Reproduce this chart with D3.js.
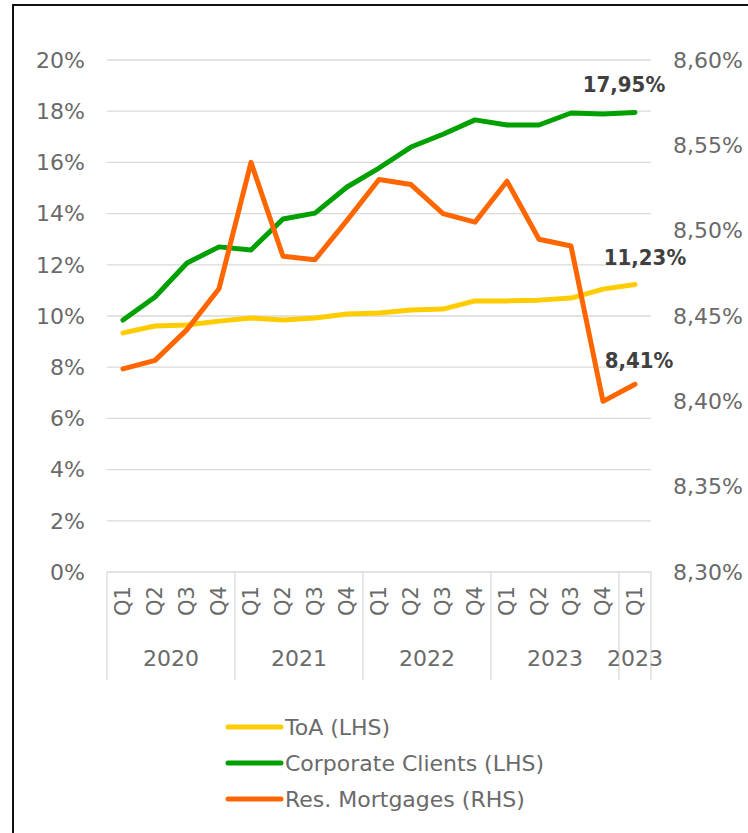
<!DOCTYPE html>
<html>
<head>
<meta charset="utf-8">
<script src="https://cdn.jsdelivr.net/npm/d3@7"></script>
<style>
  body { margin: 0; background: #fff; }
  svg text { font-family: "DejaVu Sans", "Liberation Sans", sans-serif; }
</style>
</head>
<body>
<div id="chart"></div>
<script>
// Quarter labels and the year group each one belongs to
var quarters = ["Q1","Q2","Q3","Q4","Q1","Q2","Q3","Q4","Q1","Q2","Q3","Q4","Q1","Q2","Q3","Q4","Q1"];
var yearGroups = ["2020","2020","2020","2020","2021","2021","2021","2021","2022","2022","2022","2022","2023","2023","2023","2023","2023b"];

// Series values (percent)
var toa = [9.34, 9.61, 9.65, 9.80, 9.92, 9.84, 9.92, 10.08, 10.12, 10.23, 10.27, 10.59, 10.59, 10.62, 10.70, 11.05, 11.23];
var corporate = [9.84, 10.74, 12.07, 12.70, 12.58, 13.79, 14.02, 15.04, 15.78, 16.60, 17.10, 17.66, 17.46, 17.46, 17.93, 17.89, 17.95];
var mortgages = [8.419, 8.424, 8.442, 8.466, 8.540, 8.485, 8.483, 8.506, 8.530, 8.527, 8.510, 8.505, 8.529, 8.495, 8.491, 8.400, 8.41];

var leftTicks = [0, 2, 4, 6, 8, 10, 12, 14, 16, 18, 20];
var rightTicks = [8.30, 8.35, 8.40, 8.45, 8.50, 8.55, 8.60];

var seriesNames = ["ToA (LHS)", "Corporate Clients (LHS)", "Res. Mortgages (RHS)"];
var seriesColors = ["#FFCC00", "#00A000", "#FF6600"];

var width = 748, height = 833;
var margin = {top: 60, left: 107, right: 97, bottom: 261};
var textColor = "#6a6a6a";

var svg = d3.select("#chart").append("svg")
  .attr("width", width)
  .attr("height", height);

// frame
svg.append("rect")
  .attr("x", 13).attr("y", 5)
  .attr("width", width + 20).attr("height", height + 20)
  .attr("fill", "none")
  .attr("stroke", "#111")
  .attr("stroke-width", 2);

var x = d3.scaleBand()
  .domain(d3.range(quarters.length))
  .range([margin.left, width - margin.right]);

var yLeft = d3.scaleLinear().domain([0, 20]).range([height - margin.bottom, margin.top]);
var yRight = d3.scaleLinear().domain([8.30, 8.60]).range([height - margin.bottom, margin.top]);

var cx = function(i) { return x(i) + x.bandwidth() / 2; };

// gridlines
svg.append("g")
  .selectAll("line")
  .data(leftTicks.slice(1))
  .enter().append("line")
  .attr("x1", margin.left).attr("x2", width - margin.right)
  .attr("y1", function(d) { return yLeft(d); })
  .attr("y2", function(d) { return yLeft(d); })
  .attr("stroke", "#d9d9d9")
  .attr("stroke-width", 1.3);

// left axis labels
svg.append("g")
  .selectAll("text")
  .data(leftTicks)
  .enter().append("text")
  .attr("x", 85)
  .attr("y", function(d) { return yLeft(d); })
  .attr("dy", "0.35em")
  .attr("text-anchor", "end")
  .attr("fill", textColor)
  .style("font-size", "22px")
  .text(function(d) { return d + "%"; });

// right axis labels
svg.append("g")
  .selectAll("text")
  .data(rightTicks)
  .enter().append("text")
  .attr("x", 673)
  .attr("y", function(d) { return yRight(d); })
  .attr("dy", "0.35em")
  .attr("text-anchor", "start")
  .attr("fill", textColor)
  .style("font-size", "22px")
  .text(function(d) { return d3.format(".2f")(d).replace(".", ",") + "%"; });

// category axis box
var axisTop = height - margin.bottom;
var axisBottom = 680;
var groups = [];
yearGroups.forEach(function(g, i) {
  if (!groups.length || groups[groups.length - 1].key !== g) groups.push({key: g, start: i, end: i});
  else groups[groups.length - 1].end = i;
});

var bounds = groups.map(function(g) { return x(g.start); });
bounds.push(x(quarters.length - 1) + x.bandwidth());

svg.append("line")
  .attr("x1", margin.left).attr("x2", width - margin.right)
  .attr("y1", axisTop).attr("y2", axisTop)
  .attr("stroke", "#d9d9d9").attr("stroke-width", 1.3);

svg.append("g")
  .selectAll("line")
  .data(bounds)
  .enter().append("line")
  .attr("x1", function(d) { return d; })
  .attr("x2", function(d) { return d; })
  .attr("y1", axisTop).attr("y2", axisBottom)
  .attr("stroke", "#d9d9d9").attr("stroke-width", 1.3);

svg.append("g")
  .selectAll("text")
  .data(quarters)
  .enter().append("text")
  .attr("transform", function(d, i) { return "translate(" + cx(i) + "," + 601 + ") rotate(-90)"; })
  .attr("dy", "0.35em")
  .attr("text-anchor", "middle")
  .attr("fill", textColor)
  .style("font-size", "21px")
  .text(function(d) { return d; });

svg.append("g")
  .selectAll("text")
  .data(groups)
  .enter().append("text")
  .attr("x", function(g) { return (x(g.start) + x(g.end) + x.bandwidth()) / 2; })
  .attr("y", 658)
  .attr("dy", "0.35em")
  .attr("text-anchor", "middle")
  .attr("fill", textColor)
  .style("font-size", "22px")
  .text(function(g) { return g.key.slice(0, 4); });

// lines
var lineLeft = d3.line().x(function(d, i) { return cx(i); }).y(function(d) { return yLeft(d); });
var lineRight = d3.line().x(function(d, i) { return cx(i); }).y(function(d) { return yRight(d); });

var paths = [
  {data: toa, gen: lineLeft, color: seriesColors[0]},
  {data: corporate, gen: lineLeft, color: seriesColors[1]},
  {data: mortgages, gen: lineRight, color: seriesColors[2]}
];

svg.append("g")
  .selectAll("path")
  .data(paths)
  .enter().append("path")
  .attr("d", function(p) { return p.gen(p.data); })
  .attr("fill", "none")
  .attr("stroke", function(p) { return p.color; })
  .attr("stroke-width", 5)
  .attr("stroke-linejoin", "round")
  .attr("stroke-linecap", "round");

// end labels
var last = quarters.length - 1;
var fmt = function(v) { return d3.format(".2f")(v).replace(".", ",") + "%"; };
var endLabels = [
  {text: fmt(corporate[last]), x: cx(last) - 11, y: yLeft(corporate[last]) - 28},
  {text: fmt(toa[last]), x: cx(last) + 10, y: yLeft(toa[last]) - 27},
  {text: fmt(mortgages[last]), x: cx(last) + 4, y: yRight(mortgages[last]) - 24}
];

svg.append("g")
  .selectAll("text")
  .data(endLabels)
  .enter().append("text")
  .attr("x", function(d) { return d.x; })
  .attr("y", function(d) { return d.y; })
  .attr("dy", "0.35em")
  .attr("text-anchor", "middle")
  .attr("fill", "#404040")
  .style("font-family", "'DejaVu Sans Condensed', 'DejaVu Sans', sans-serif")
  .style("font-size", "22px")
  .style("font-weight", "bold")
  .text(function(d) { return d.text; });

// legend
var legend = svg.append("g")
  .selectAll("g")
  .data(seriesNames)
  .enter().append("g")
  .attr("transform", function(d, i) { return "translate(228," + (727 + i * 36) + ")"; });

legend.append("line")
  .attr("x1", 0).attr("x2", 53)
  .attr("stroke", function(d, i) { return seriesColors[i]; })
  .attr("stroke-width", 5)
  .attr("stroke-linecap", "round");

legend.append("text")
  .attr("x", 57)
  .attr("dy", "0.35em")
  .attr("fill", textColor)
  .style("font-size", "22px")
  .text(function(d) { return d; });
</script>
</body>
</html>
